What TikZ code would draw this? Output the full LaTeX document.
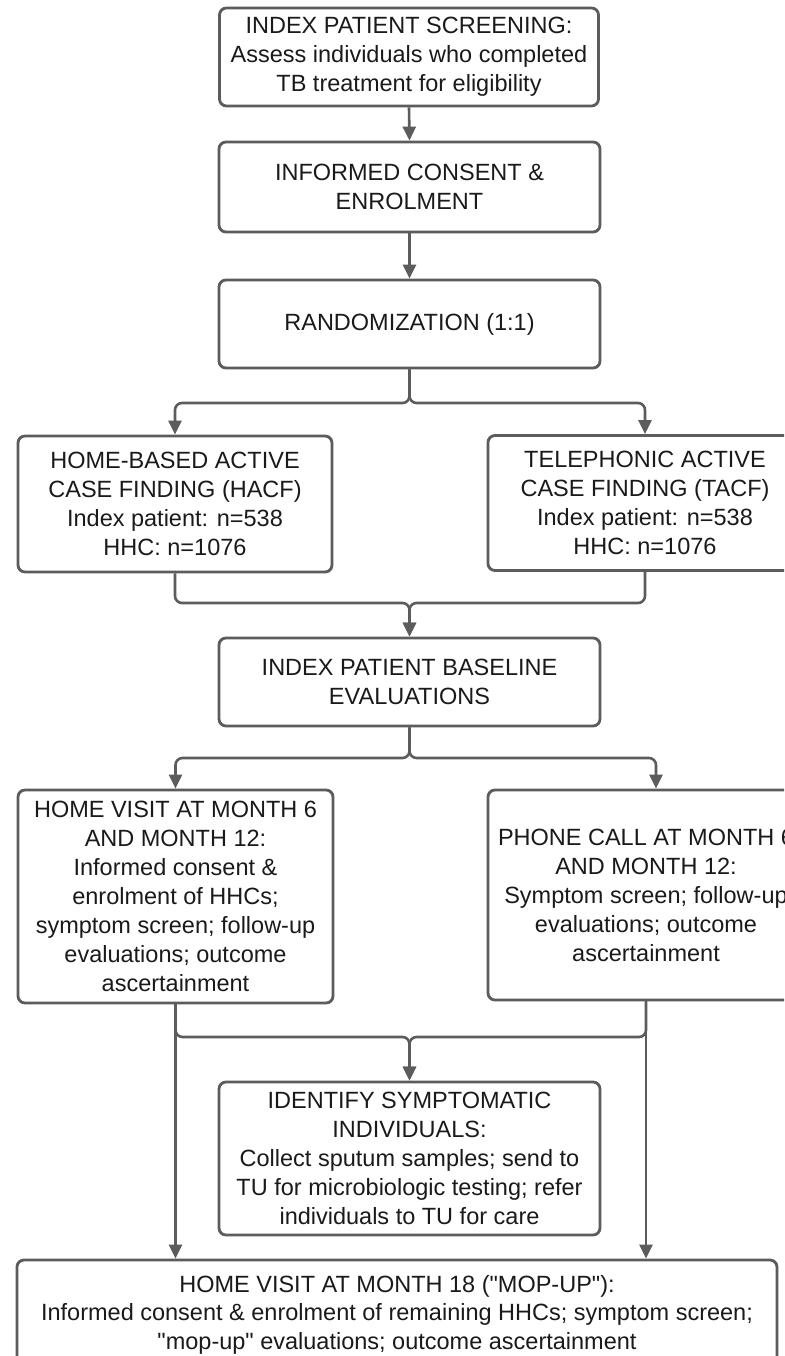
\documentclass[tikz,border=0pt]{standalone}
\usepackage{fontspec}
\setmainfont{Liberation Sans}[Ligatures=TeXOff]
\usetikzlibrary{arrows.meta,calc}
\definecolor{lin}{HTML}{5C5C5C}
\definecolor{txt}{HTML}{1A1A1A}
\tikzset{
  box/.style={draw=lin, line width=2.8pt, rounded corners=7pt, rectangle, fill=white,
    align=center, inner sep=0pt, text=txt,
    font=\fontsize{23.5}{29}\selectfont},
  conn/.style={draw=lin, line width=2.6pt, rounded corners=7pt},
  arr/.style={conn, -{Triangle[length=14pt,width=13pt]}}
}
\begin{document}
\begin{tikzpicture}[x=1pt,y=-1pt]
\useasboundingbox (0,0) rectangle (784,1356);
\clip (0,0) rectangle (784,1356);
\fill[white] (0,0) rectangle (784,1356);

\node[box, minimum width=379pt, minimum height=98pt] (top) at (409,57)
  {INDEX PATIENT SCREENING:\\Assess individuals who completed\\TB treatment for eligibility};
\node[box, minimum width=381pt, minimum height=90pt] (consent) at (409.5,187)
  {INFORMED CONSENT \&\\ENROLMENT};
\node[box, minimum width=381pt, minimum height=88pt] (rand) at (409.5,324)
  {RANDOMIZATION (1:1)};
\node[box, minimum width=314pt, minimum height=136pt] (hacf) at (175,504)
  {HOME-BASED ACTIVE\\CASE FINDING (HACF)\\Index patient: n=538\\HHC: n=1076};
\node[box, minimum width=314pt, minimum height=135pt] (tacf) at (645,503)
  {TELEPHONIC ACTIVE\\CASE FINDING (TACF)\\Index patient: n=538\\HHC: n=1076};
\node[box, minimum width=381pt, minimum height=88pt] (base) at (409.5,682)
  {INDEX PATIENT BASELINE\\EVALUATIONS};
\node[box, minimum width=315pt, minimum height=213pt] (home) at (175.5,896.5)
  {HOME VISIT AT MONTH 6\\AND MONTH 12:\\Informed consent \&\\enrolment of HHCs;\\symptom screen; follow-up\\evaluations; outcome\\ascertainment};
\node[box, minimum width=316pt, minimum height=210pt] (phone) at (646,895)
  {PHONE CALL AT MONTH 6\\AND MONTH 12:\\Symptom screen; follow-up\\evaluations; outcome\\ascertainment};
\node[box, minimum width=381pt, minimum height=153pt] (ident) at (409.5,1158.5)
  {IDENTIFY SYMPTOMATIC\\INDIVIDUALS:\\Collect sputum samples; send to\\TU for microbiologic testing; refer\\individuals to TU for care};
\node[box, minimum width=760pt, minimum height=110pt] (mop) at (397,1315)
  {\raisebox{7pt}{\begin{tabular}{@{}c@{}}HOME VISIT AT MONTH 18 ("MOP-UP"):\\[-0.5pt]Informed consent \& enrolment of remaining HHCs; symptom screen;\\[-0.5pt]"mop-up" evaluations; outcome ascertainment\end{tabular}}};

\coordinate (m1) at (409.5,403);
\coordinate (m2) at (409.5,603);
\coordinate (m3) at (409.5,758);
\coordinate (m4) at (409.5,1037);
\coordinate (pin) at ([xshift=10pt]phone.north);

\draw[arr] (top.south) -- (consent.north);
\draw[arr] (consent.south) -- (rand.north);
\draw[arr] (rand.south) -- (m1) -| (hacf.north);
\draw[arr] (rand.south) -- (m1) -| (tacf.north);
\draw[arr] (hacf.south) |- (m2) -- (base.north);
\draw[arr] (tacf.south) |- (m2) -- (base.north);
\draw[arr] (base.south) -- (m3) -| (home.north);
\draw[arr] (base.south) -- (m3) -| (pin);
\draw[arr] (home.south) |- (m4) -- (ident.north);
\draw[arr] (phone.south) |- (m4) -- (ident.north);
\draw[arr] (home.south) -- (home.south |- mop.north);
\draw[arr] (phone.south) -- (phone.south |- mop.north);
\end{tikzpicture}
\end{document}
